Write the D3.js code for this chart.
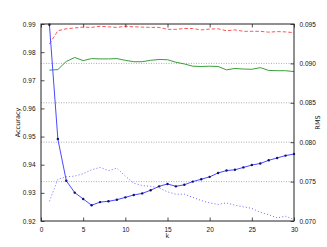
<!DOCTYPE html>
<html>
<head>
<meta charset="utf-8">
<script src="https://cdn.jsdelivr.net/npm/d3@7"></script>
<style>
  body { margin: 0; background: #fff; }
  svg { display: block; font-family: "DejaVu Sans", sans-serif; }
</style>
</head>
<body>
<svg id="chart" width="327" height="247"></svg>
<script>
// k values 1..30
const kValues = [1,2,3,4,5,6,7,8,9,10,11,12,13,14,15,16,17,18,19,20,21,22,23,24,25,26,27,28,29,30];

// accuracy series (left axis)
const accRed = [0.9829,0.9876,0.9883,0.9886,0.9889,0.9888,0.9892,0.9890,0.9888,0.9892,
                0.9890,0.9889,0.9888,0.9888,0.9881,0.9881,0.9884,0.9884,0.9879,0.9882,
                0.9883,0.9876,0.9879,0.9874,0.9874,0.9874,0.9871,0.9873,0.9872,0.9869];
const accGreen = [0.9736,0.9738,0.9767,0.9781,0.9770,0.9777,0.9776,0.9776,0.9777,0.9771,
                  0.9766,0.9766,0.9771,0.9774,0.9773,0.9764,0.9758,0.9750,0.9749,0.9750,
                  0.9749,0.9737,0.9742,0.9740,0.9739,0.9745,0.9735,0.9734,0.9734,0.9731];

// RMS series (right axis)
const rmsSolid = [0.0949,0.0804,0.0751,0.0736,0.0728,0.0720,0.0724,0.0725,0.0727,0.0730,
                  0.0733,0.0735,0.0739,0.0744,0.0747,0.0744,0.0746,0.0750,0.0753,0.0756,
                  0.0761,0.0764,0.0765,0.0768,0.0771,0.0773,0.0777,0.0780,0.0783,0.0785];
const rmsDotted = [0.0725,0.0753,0.0756,0.0757,0.0760,0.0765,0.0768,0.0764,0.0767,0.0757,
                   0.0748,0.0745,0.0744,0.0742,0.0737,0.0734,0.0734,0.0730,0.0726,0.0723,
                   0.0721,0.0723,0.0720,0.0718,0.0716,0.0711,0.0708,0.0704,0.0706,0.0702];

const xTicks = [0,5,10,15,20,25,30];
const accTicks = [0.92,0.93,0.94,0.95,0.96,0.97,0.98,0.99];
const rmsTicks = [0.070,0.075,0.080,0.085,0.090,0.095];

const width = 327, height = 247;
const margin = { top: 24, right: 33, bottom: 26, left: 41 };

const svg = d3.select('#chart');

const x = d3.scaleLinear().domain([0, 30]).range([margin.left, width - margin.right]);
const yL = d3.scaleLinear().domain([0.92, 0.99]).range([height - margin.bottom, margin.top]);
const yR = d3.scaleLinear().domain([0.070, 0.095]).range([height - margin.bottom, margin.top]);

// dotted grid from right axis
svg.append('g')
  .selectAll('line')
  .data(rmsTicks.slice(1, -1))
  .join('line')
  .attr('x1', margin.left).attr('x2', width - margin.right)
  .attr('y1', d => yR(d)).attr('y2', d => yR(d))
  .attr('stroke', '#999').attr('stroke-width', 0.8)
  .attr('stroke-dasharray', '1,1.5');

const lineL = d3.line().x((d, i) => x(kValues[i])).y(d => yL(d));
const lineR = d3.line().x((d, i) => x(kValues[i])).y(d => yR(d));

svg.append('path').datum(rmsDotted)
  .attr('fill', 'none').attr('stroke', '#6a6aff').attr('stroke-width', 1)
  .attr('stroke-dasharray', '1,2.2').attr('d', lineR);

svg.append('path').datum(accGreen)
  .attr('fill', 'none').attr('stroke', '#3a9e3a').attr('stroke-width', 1)
  .attr('d', lineL);

svg.append('path').datum(accRed)
  .attr('fill', 'none').attr('stroke', '#ff5555').attr('stroke-width', 1)
  .attr('stroke-dasharray', '3.5,2').attr('d', lineL);

svg.append('path').datum(rmsSolid)
  .attr('fill', 'none').attr('stroke', '#4a4aff').attr('stroke-width', 1)
  .attr('d', lineR);

svg.append('g')
  .selectAll('circle')
  .data(rmsSolid)
  .join('circle')
  .attr('cx', (d, i) => x(kValues[i]))
  .attr('cy', d => yR(d))
  .attr('r', 1.2)
  .attr('fill', '#101070');

// axes with inward ticks
const fmt2 = d3.format('.2f'), fmt3 = d3.format('.3f');
const tickLen = -3.5;

function styleAxis(g) {
  g.selectAll('.domain').remove();
  g.selectAll('.tick line').attr('stroke', '#222').attr('stroke-width', 0.8);
  g.selectAll('.tick text').attr('fill', '#111').attr('font-size', 6.5);
}

svg.append('g')
  .attr('transform', `translate(0,${height - margin.bottom})`)
  .call(d3.axisBottom(x).tickValues(xTicks).tickSize(tickLen).tickPadding(6))
  .call(styleAxis);

svg.append('g')
  .attr('transform', `translate(0,${margin.top})`)
  .call(d3.axisTop(x).tickValues(xTicks).tickSize(tickLen).tickFormat(''))
  .call(styleAxis);

svg.append('g')
  .attr('transform', `translate(${margin.left},0)`)
  .call(d3.axisLeft(yL).tickValues(accTicks).tickFormat(fmt2).tickSize(tickLen).tickPadding(5.5))
  .call(styleAxis);

svg.append('g')
  .attr('transform', `translate(${width - margin.right},0)`)
  .call(d3.axisRight(yR).tickValues(rmsTicks).tickFormat(fmt3).tickSize(tickLen).tickPadding(5.5))
  .call(styleAxis);

// frame
svg.append('rect')
  .attr('x', margin.left).attr('y', margin.top)
  .attr('width', width - margin.left - margin.right)
  .attr('height', height - margin.top - margin.bottom)
  .attr('fill', 'none').attr('stroke', '#222').attr('stroke-width', 1);

// axis labels
const midY = (margin.top + height - margin.bottom) / 2;
svg.append('text')
  .attr('transform', `translate(20,${midY}) rotate(-90)`)
  .attr('text-anchor', 'middle').attr('font-size', 6.5).attr('fill', '#111')
  .text('Accuracy');

svg.append('text')
  .attr('transform', `translate(320,${midY}) rotate(-90)`)
  .attr('text-anchor', 'middle').attr('font-size', 6.5).attr('fill', '#111')
  .text('RMS');

svg.append('text')
  .attr('x', (margin.left + width - margin.right) / 2).attr('y', 238)
  .attr('text-anchor', 'middle').attr('font-size', 6.5).attr('fill', '#111')
  .text('k');
</script>
</body>
</html>
